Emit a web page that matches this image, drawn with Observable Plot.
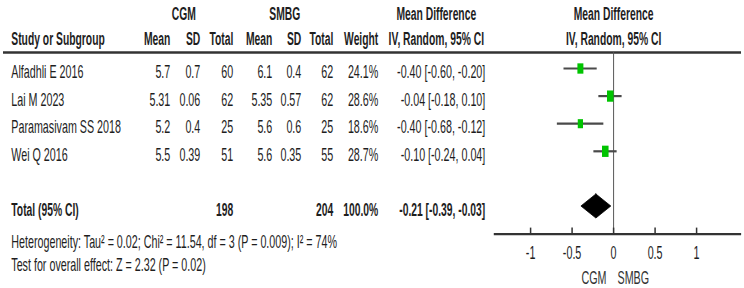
<!DOCTYPE html>
<html>
<head>
<meta charset="utf-8">
<script src="https://cdn.jsdelivr.net/npm/d3@7"></script>
<script src="https://cdn.jsdelivr.net/npm/@observablehq/plot@0.6"></script>
<style>
  body { margin: 0; background: #fff; }
</style>
</head>
<body>
<div id="chart"></div>
<script>
// Study-level data (CGM vs SMBG, mean difference, random effects)
const studies   = ["Alfadhli E 2016", "Lai M 2023", "Paramasivam SS 2018", "Wei Q 2016"];
const cgmMean   = [5.7, 5.31, 5.2, 5.5];
const cgmSD     = [0.7, 0.06, 0.4, 0.39];
const cgmTotal  = [60, 62, 25, 51];
const smbgMean  = [6.1, 5.35, 5.6, 5.6];
const smbgSD    = [0.4, 0.57, 0.6, 0.35];
const smbgTotal = [62, 62, 25, 55];
const weights   = [24.1, 28.6, 18.6, 28.7];
const meanDiff  = [-0.40, -0.04, -0.40, -0.10];
const ciLow     = [-0.60, -0.18, -0.68, -0.24];
const ciHigh    = [-0.20, 0.10, -0.12, 0.04];

// Pooled estimate
const totalLabel   = "Total (95% CI)";
const totalN       = [198, 204];
const totalWeight  = 100.0;
const pooledMD     = -0.21;
const pooledCI     = [-0.39, -0.03];
const heterogeneity = "Heterogeneity: Tau² = 0.02; Chi² = 11.54, df = 3 (P = 0.009); I² = 74%";
const overallEffect = "Test for overall effect: Z = 2.32 (P = 0.02)";

// Axis
const xTicks  = [-1, -0.5, 0, 0.5, 1];
const favours = ["CGM", "SMBG"];

// ---- layout ----
// The plot is drawn on a wide canvas and squeezed horizontally into 744px,
// giving the narrow RevMan-style lettering. Column positions are given in
// screen pixels and converted to canvas units.
const OUT_W = 744, H = 288;
const squeeze = 0.58;
const W = OUT_W / squeeze;
const px = v => v / squeeze;

const col = {
  name: px(11), cgmMean: px(170), cgmSD: px(200), cgmTotal: px(233),
  smbgMean: px(272), smbgSD: px(301), smbgTotal: px(333), weight: px(378), ci: px(485),
  ciHead: px(436), cgmHead: px(183.5), smbgHead: px(284.5)
};
const zeroX = px(613.3), unitX = px(83);

const rowDy = 3.5;          // text sits a little below the marker centre
const totalRow = 5;
const axisRow = 6;
const headTop = -1.96, headSub = -1.06, headLine = -0.58;
const diamondHalf = 0.435;
const axisExtent = [-1.44, 1.54];
const ink = "#1e1e1e";
const fontSize = 18.5, boldSize = 17.8;

const fmt2 = v => v.toFixed(2);
const ciText = (m, l, h) => `${fmt2(m)} [${fmt2(l)}, ${fmt2(h)}]`;

const rows = studies.map((s, i) => ({
  i, study: s,
  cgmMean: cgmMean[i], cgmSD: cgmSD[i], cgmTotal: cgmTotal[i],
  smbgMean: smbgMean[i], smbgSD: smbgSD[i], smbgTotal: smbgTotal[i],
  weight: weights[i], md: meanDiff[i], lo: ciLow[i], hi: ciHigh[i]
}));

// right-aligned table column
const column = (key, x, fmt = String) =>
  Plot.text(rows, {frameAnchor: "left", dx: x, y: "i", dy: rowDy,
                   text: d => fmt(d[key]), textAnchor: "end", fill: ink});

const header = (label, x, y, anchor = "end") =>
  Plot.text([label], {frameAnchor: "left", dx: x, y: () => y, textAnchor: anchor,
                      fontWeight: "bold", fontSize: boldSize, fill: ink});

const totalCell = (label, x, anchor = "end") =>
  Plot.text([label], {frameAnchor: "left", dx: x, y: () => totalRow, dy: rowDy,
                      textAnchor: anchor, fontWeight: "bold", fontSize: boldSize, fill: ink});

const diamond = [
  {y: totalRow - diamondHalf, x1: pooledMD, x2: pooledMD},
  {y: totalRow, x1: pooledCI[0], x2: pooledCI[1]},
  {y: totalRow + diamondHalf, x1: pooledMD, x2: pooledMD}
];

const svg = Plot.plot({
  width: W,
  height: H,
  marginLeft: 0, marginRight: 0, marginTop: 0, marginBottom: 0,
  style: {fontFamily: "'Liberation Sans', Arial, sans-serif", fontSize: fontSize + "px", background: "#fff"},
  x: {domain: [-1, 1], range: [zeroX - unitX, zeroX + unitX], axis: null},
  y: {domain: [0, 5], range: [68, 206], axis: null},
  r: {type: "sqrt", domain: [0, 30], range: [0, 6.5]},
  marks: [
    // header rule across the full width
    Plot.ruleY([headLine], {stroke: "#333", strokeWidth: 2.4, insetLeft: px(3), insetRight: W - px(741)}),

    // group headers
    header("CGM", col.cgmHead, headTop, "middle"),
    header("SMBG", col.smbgHead, headTop, "middle"),
    header("Mean Difference", col.ciHead, headTop, "middle"),
    Plot.text(["Mean Difference"], {x: 0, y: () => headTop, fontWeight: "bold", fontSize: boldSize, fill: ink}),

    // column headers
    header("Study or Subgroup", col.name, headSub, "start"),
    header("Mean", col.cgmMean, headSub),
    header("SD", col.cgmSD, headSub),
    header("Total", col.cgmTotal, headSub),
    header("Mean", col.smbgMean, headSub),
    header("SD", col.smbgSD, headSub),
    header("Total", col.smbgTotal, headSub),
    header("Weight", col.weight, headSub),
    header("IV, Random, 95% CI", col.ciHead, headSub, "middle"),
    Plot.text(["IV, Random, 95% CI"], {x: 0, y: () => headSub, fontWeight: "bold", fontSize: boldSize, fill: ink}),

    // study rows
    Plot.text(rows, {frameAnchor: "left", dx: col.name, y: "i", dy: rowDy, text: "study",
                     textAnchor: "start", fill: ink}),
    column("cgmMean", col.cgmMean),
    column("cgmSD", col.cgmSD),
    column("cgmTotal", col.cgmTotal),
    column("smbgMean", col.smbgMean),
    column("smbgSD", col.smbgSD),
    column("smbgTotal", col.smbgTotal),
    column("weight", col.weight, v => v.toFixed(1) + "%"),
    Plot.text(rows, {frameAnchor: "left", dx: col.ci, y: "i", dy: rowDy,
                     text: d => ciText(d.md, d.lo, d.hi), textAnchor: "end", fill: ink}),

    // pooled row
    totalCell(totalLabel, col.name, "start"),
    totalCell(String(totalN[0]), col.cgmTotal),
    totalCell(String(totalN[1]), col.smbgTotal),
    totalCell(totalWeight.toFixed(1) + "%", col.weight),
    totalCell(ciText(pooledMD, pooledCI[0], pooledCI[1]), col.ci),

    // footnotes
    Plot.text([heterogeneity], {frameAnchor: "left", dx: col.name, y: () => 6.3,
                                textAnchor: "start", fill: ink}),
    Plot.text([overallEffect], {frameAnchor: "left", dx: col.name, y: () => 7.12,
                                textAnchor: "start", fill: ink}),

    // line of no effect
    Plot.ruleX([0], {y1: headLine, y2: axisRow, stroke: "#555", strokeWidth: 1.7}),

    // confidence intervals and study markers
    Plot.ruleY(rows, {y: "i", x1: "lo", x2: "hi", stroke: "#4a4a4a", strokeWidth: 2.2}),
    Plot.dot(rows, {x: "md", y: "i", r: "weight", symbol: "square", fill: "#00c400", stroke: "none"}),

    // pooled diamond
    Plot.areaX(diamond, {y: "y", x1: "x1", x2: "x2", fill: "#000", stroke: "#000", strokeWidth: 1}),

    // x axis
    Plot.ruleY([axisRow], {x1: axisExtent[0], x2: axisExtent[1], stroke: "#333", strokeWidth: 2.2}),
    Plot.ruleX(xTicks, {x: d => d, y1: axisRow - 6 / 27.6, y2: axisRow, stroke: "#333", strokeWidth: 2.6}),
    Plot.text(xTicks, {x: d => d, y: () => axisRow, dy: 18.5, text: d => String(d), fill: ink}),
    Plot.text([favours[0]], {x: 0, y: () => axisRow, dx: -px(19.7), dy: 44, fill: "#333"}),
    Plot.text([favours[1]], {x: 0, y: () => axisRow, dx: px(19.7), dy: 44, fill: "#333"})
  ]
});

// squeeze the wide drawing into the 744px frame
svg.setAttribute("width", OUT_W);
svg.setAttribute("height", H);
svg.setAttribute("preserveAspectRatio", "none");
svg.style.width = OUT_W + "px";
svg.style.height = H + "px";
svg.style.maxWidth = "none";
document.getElementById("chart").appendChild(svg);
</script>
</body>
</html>
